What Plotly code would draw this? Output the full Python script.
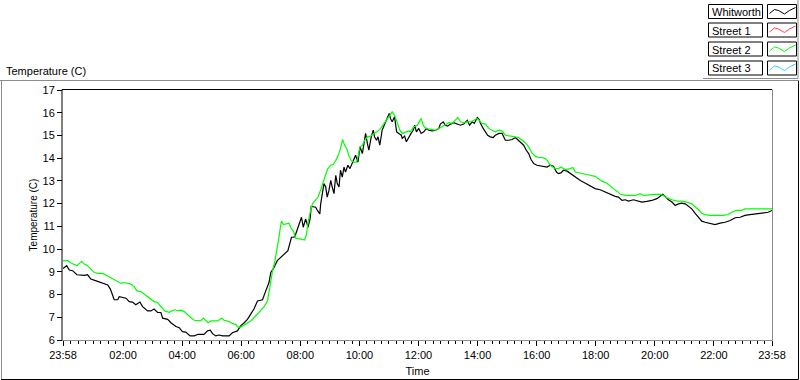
import plotly.graph_objects as go

# ---------------- data ----------------
series_names = ["Whitworth", "Street 1", "Street 2", "Street 3"]
series_colors = ["#000000", "#ff4a4a", "#00ff00", "#3cc8ff"]

# (hours since midnight, temperature C)
whitworth = [
    (-0.033, 9.15), (0.09, 9.27), (0.18, 9.08), (0.29, 9.05), (0.44, 8.87), (0.69, 8.84), (0.80, 8.87),
    (0.91, 8.68), (1.14, 8.58), (1.36, 8.46), (1.48, 8.42), (1.57, 8.24), (1.65, 7.94), (1.70, 7.77),
    (1.82, 7.77), (1.87, 7.91), (2.10, 7.84), (2.21, 7.69), (2.32, 7.67), (2.43, 7.55), (2.57, 7.67),
    (2.66, 7.47), (2.83, 7.28), (2.94, 7.28), (3.05, 7.36), (3.17, 7.21), (3.28, 7.21), (3.34, 6.96),
    (3.51, 6.91), (3.62, 6.76), (3.79, 6.59), (3.90, 6.54), (4.01, 6.37), (4.12, 6.35), (4.27, 6.18),
    (4.41, 6.18), (4.54, 6.25), (4.74, 6.25), (4.86, 6.40), (4.95, 6.43), (5.03, 6.28), (5.14, 6.18),
    (5.25, 6.22), (5.37, 6.18), (5.59, 6.18), (5.70, 6.32), (5.87, 6.40), (5.98, 6.62), (6.10, 6.76),
    (6.21, 6.91), (6.32, 7.14), (6.43, 7.36), (6.55, 7.72), (6.72, 7.77), (6.83, 8.16), (6.94, 8.53),
    (7.00, 8.97), (7.11, 9.19), (7.22, 9.49), (7.34, 9.64), (7.45, 9.79), (7.58, 9.93), (7.70, 10.52),
    (7.79, 10.52), (7.84, 10.64), (7.95, 11.04), (8.04, 11.40), (8.10, 10.96), (8.18, 11.33), (8.26, 10.96),
    (8.33, 11.33), (8.37, 11.88), (8.52, 11.84), (8.58, 11.70), (8.66, 11.55), (8.69, 11.99), (8.75, 12.44),
    (8.80, 12.88), (8.86, 12.73), (8.91, 12.29), (8.97, 12.58), (9.03, 13.02), (9.08, 12.73), (9.14, 12.44),
    (9.20, 13.25), (9.25, 12.88), (9.31, 12.73), (9.36, 13.47), (9.42, 13.17), (9.48, 13.61), (9.53, 13.39),
    (9.61, 13.69), (9.68, 13.54), (9.76, 13.76), (9.81, 13.91), (9.87, 14.13), (9.95, 13.83), (10.02, 14.50),
    (10.10, 14.20), (10.15, 14.65), (10.21, 15.09), (10.27, 14.65), (10.32, 14.35), (10.40, 14.94),
    (10.47, 15.23), (10.51, 14.94), (10.58, 14.79), (10.63, 14.94), (10.69, 14.57), (10.77, 15.23),
    (10.83, 15.45), (10.89, 15.60), (10.96, 15.82), (11.01, 15.97), (11.05, 15.75), (11.11, 15.60),
    (11.19, 15.82), (11.26, 15.16), (11.33, 15.09), (11.42, 15.01), (11.45, 14.87), (11.53, 14.97),
    (11.59, 14.72), (11.67, 14.94), (11.75, 15.09), (11.82, 15.23), (11.87, 15.45), (11.93, 15.16),
    (12.01, 15.31), (12.09, 15.09), (12.18, 15.16), (12.27, 15.31), (12.35, 15.23), (12.46, 15.20),
    (12.58, 15.23), (12.69, 15.31), (12.74, 15.50), (12.84, 15.60), (12.91, 15.45), (12.99, 15.41),
    (13.08, 15.50), (13.19, 15.56), (13.31, 15.50), (13.42, 15.45), (13.53, 15.50), (13.65, 15.67),
    (13.73, 15.45), (13.82, 15.60), (13.89, 15.53), (13.99, 15.79), (14.05, 15.71), (14.10, 15.53),
    (14.19, 15.31), (14.27, 15.16), (14.34, 15.01), (14.43, 14.94), (14.53, 14.91), (14.60, 15.01),
    (14.72, 15.09), (14.83, 15.09), (14.88, 14.94), (14.94, 14.79), (15.05, 14.79), (15.17, 14.82),
    (15.28, 14.91), (15.36, 14.82), (15.45, 14.72), (15.56, 14.57), (15.65, 14.35), (15.73, 14.20),
    (15.81, 13.94), (15.90, 13.76), (16.01, 13.69), (16.12, 13.67), (16.24, 13.64), (16.35, 13.61),
    (16.46, 13.69), (16.57, 13.64), (16.67, 13.39), (16.74, 13.32), (16.82, 13.35), (16.91, 13.47),
    (17.03, 13.43), (17.14, 13.32), (17.25, 13.25), (17.37, 13.10), (17.48, 13.02), (17.65, 12.90),
    (17.81, 12.80), (17.98, 12.66), (18.15, 12.61), (18.32, 12.51), (18.49, 12.41), (18.66, 12.32),
    (18.77, 12.29), (18.89, 12.14), (19.00, 12.17), (19.11, 12.11), (19.28, 12.17), (19.45, 12.11),
    (19.56, 12.07), (19.73, 12.10), (19.90, 12.14), (20.07, 12.22), (20.18, 12.32), (20.27, 12.41),
    (20.35, 12.32), (20.46, 12.17), (20.58, 12.07), (20.69, 11.92), (20.80, 11.99), (20.91, 12.02),
    (21.03, 11.99), (21.14, 11.88), (21.25, 11.77), (21.36, 11.58), (21.48, 11.38), (21.59, 11.23),
    (21.70, 11.18), (21.93, 11.11), (22.04, 11.08), (22.21, 11.14), (22.38, 11.18), (22.55, 11.26),
    (22.72, 11.38), (22.89, 11.40), (23.05, 11.48), (23.22, 11.52), (23.39, 11.55), (23.56, 11.58),
    (23.84, 11.62), (23.967, 11.70),
]

street_1 = []  # no samples shown

street_2 = [
    (-0.033, 9.49), (0.13, 9.49), (0.24, 9.39), (0.35, 9.34), (0.44, 9.27), (0.52, 9.37), (0.60, 9.46),
    (0.69, 9.34), (0.80, 9.27), (0.91, 9.12), (1.03, 8.97), (1.14, 8.93), (1.31, 8.93), (1.42, 8.86),
    (1.57, 8.75), (1.70, 8.68), (1.82, 8.58), (1.93, 8.49), (2.04, 8.53), (2.15, 8.49), (2.27, 8.46),
    (2.38, 8.34), (2.47, 8.16), (2.60, 8.13), (2.72, 8.02), (2.83, 7.90), (2.94, 7.80), (3.05, 7.69),
    (3.17, 7.65), (3.26, 7.50), (3.34, 7.36), (3.41, 7.28), (3.56, 7.22), (3.67, 7.28), (3.75, 7.34),
    (3.84, 7.28), (3.96, 7.31), (4.07, 7.25), (4.18, 7.10), (4.29, 6.99), (4.41, 6.87), (4.52, 6.84),
    (4.63, 6.84), (4.72, 6.96), (4.80, 6.87), (4.88, 6.76), (4.97, 6.84), (5.20, 6.84), (5.33, 6.96),
    (5.42, 6.87), (5.59, 6.81), (5.70, 6.72), (5.81, 6.69), (5.89, 6.57), (5.98, 6.57), (6.10, 6.66),
    (6.21, 6.72), (6.32, 6.84), (6.43, 6.98), (6.55, 7.14), (6.66, 7.28), (6.77, 7.46), (6.89, 7.72),
    (6.94, 8.16), (7.00, 8.61), (7.06, 9.05), (7.13, 9.41), (7.20, 9.86), (7.26, 10.37), (7.31, 10.82),
    (7.36, 11.23), (7.43, 11.08), (7.54, 11.11), (7.62, 11.14), (7.67, 10.96), (7.77, 10.78), (7.84, 10.49),
    (7.95, 10.45), (8.10, 10.40), (8.15, 10.40), (8.21, 10.67), (8.26, 11.17), (8.33, 11.59), (8.41, 11.99),
    (8.52, 12.17), (8.60, 12.29), (8.69, 12.61), (8.78, 12.95), (8.86, 13.25), (8.93, 13.54), (9.03, 13.69),
    (9.12, 13.73), (9.20, 13.91), (9.27, 14.08), (9.36, 14.42), (9.43, 14.82), (9.50, 14.57), (9.57, 14.42),
    (9.64, 14.13), (9.73, 13.88), (9.81, 13.83), (9.90, 13.83), (9.95, 14.05), (10.02, 14.50), (10.10, 14.57),
    (10.18, 14.79), (10.27, 14.94), (10.38, 14.97), (10.49, 15.09), (10.60, 15.16), (10.72, 15.31),
    (10.83, 15.53), (10.94, 15.75), (11.03, 15.90), (11.11, 16.04), (11.19, 15.90), (11.28, 15.53),
    (11.37, 15.23), (11.45, 15.09), (11.56, 15.16), (11.67, 15.20), (11.73, 15.16), (11.84, 15.38),
    (11.96, 15.45), (12.04, 15.64), (12.09, 15.75), (12.16, 15.45), (12.24, 15.31), (12.46, 15.26),
    (12.58, 15.23), (12.69, 15.31), (12.80, 15.38), (12.91, 15.45), (13.03, 15.56), (13.14, 15.53),
    (13.25, 15.67), (13.33, 15.79), (13.42, 15.60), (13.53, 15.56), (13.65, 15.60), (13.78, 15.60),
    (13.87, 15.67), (13.98, 15.75), (14.07, 15.64), (14.15, 15.53), (14.27, 15.50), (14.38, 15.31),
    (14.49, 15.23), (14.60, 15.16), (14.72, 15.23), (14.83, 15.20), (14.94, 15.01), (15.17, 14.97),
    (15.39, 14.91), (15.51, 14.79), (15.62, 14.67), (15.73, 14.50), (15.84, 14.23), (15.96, 14.08),
    (16.07, 14.03), (16.18, 14.03), (16.29, 13.98), (16.37, 13.88), (16.46, 13.69), (16.63, 13.54),
    (16.74, 13.54), (16.82, 13.61), (16.97, 13.50), (17.14, 13.54), (17.23, 13.59), (17.31, 13.39),
    (17.48, 13.35), (17.65, 13.32), (17.81, 13.25), (17.98, 13.20), (18.10, 13.10), (18.21, 12.99),
    (18.38, 12.90), (18.49, 12.76), (18.60, 12.66), (18.72, 12.55), (18.83, 12.41), (19.00, 12.36),
    (19.34, 12.36), (19.50, 12.44), (19.62, 12.36), (20.01, 12.41), (20.18, 12.41), (20.29, 12.36),
    (20.41, 12.26), (20.58, 12.17), (20.75, 12.11), (20.91, 12.11), (21.08, 12.07), (21.25, 11.99),
    (21.36, 11.88), (21.48, 11.73), (21.59, 11.58), (21.70, 11.52), (21.87, 11.48), (22.32, 11.48),
    (22.49, 11.52), (22.60, 11.62), (22.77, 11.70), (22.94, 11.70), (23.05, 11.77), (23.967, 11.77),
]

street_3 = []  # no samples shown

series_data = [whitworth, street_1, street_2, street_3]

x_tick_vals = [-2 / 60, 2, 4, 6, 8, 10, 12, 14, 16, 18, 20, 22, 24 - 2 / 60]
x_tick_text = ["23:58", "02:00", "04:00", "06:00", "08:00", "10:00", "12:00",
               "14:00", "16:00", "18:00", "20:00", "22:00", "23:58"]
y_tick_vals = [6, 7, 8, 9, 10, 11, 12, 13, 14, 15, 16, 17]

chart_label = "Temperature (C)"
x_title = "Time"
y_title = "Temperature (C)"

# ---------------- layout helpers ----------------
W, H = 800, 380
PL, PR, PT, PB = 63, 772, 90, 340  # plot area in pixels


def px(xp):
    return (xp - PL) / (PR - PL)


def py(yp):
    return (PB - yp) / (PB - PT)


FONT = "Liberation Sans, Arial, sans-serif"

fig = go.Figure()
for name, color, pts in zip(series_names, series_colors, series_data):
    fig.add_trace(go.Scatter(
        x=[p[0] for p in pts], y=[p[1] for p in pts], mode="lines", name=name,
        line=dict(color=color, width=1.2), showlegend=False, hoverinfo="skip"))

# minor ticks: 8 subdivisions between labelled ticks
minor_vals = []
for a, b in zip(x_tick_vals[:-1], x_tick_vals[1:]):
    for k in range(1, 8):
        minor_vals.append(a + (b - a) * k / 8)

shapes = []
# plot-area frame: top/left black, right/bottom grey
shapes.append(dict(type="line", xref="paper", yref="paper", x0=px(62), x1=px(772), y0=py(89.5), y1=py(89.5),
                   line=dict(color="black", width=1)))
shapes.append(dict(type="line", xref="paper", yref="paper", x0=px(62), x1=px(62), y0=py(89.5), y1=py(340.5),
                   line=dict(color="black", width=1)))
shapes.append(dict(type="line", xref="paper", yref="paper", x0=px(772.5), x1=px(772.5), y0=py(89.5), y1=py(340.5),
                   line=dict(color="#8c8c8c", width=1)))
shapes.append(dict(type="line", xref="paper", yref="paper", x0=px(62), x1=px(772.5), y0=py(340.5), y1=py(340.5),
                   line=dict(color="#8c8c8c", width=1)))
# outer chart frame
shapes.append(dict(type="line", xref="paper", yref="paper", x0=px(0), x1=px(798), y0=py(80.5), y1=py(80.5),
                   line=dict(color="#8c8c8c", width=1)))
shapes.append(dict(type="line", xref="paper", yref="paper", x0=px(1.5), x1=px(1.5), y0=py(80.5), y1=py(379),
                   line=dict(color="#8c8c8c", width=1)))
shapes.append(dict(type="line", xref="paper", yref="paper", x0=px(798.5), x1=px(798.5), y0=py(80.5), y1=py(379.5),
                   line=dict(color="black", width=1)))
shapes.append(dict(type="line", xref="paper", yref="paper", x0=px(1), x1=px(798.5), y0=py(379.5), y1=py(379.5),
                   line=dict(color="black", width=1)))

# legend (LabVIEW style)
annotations = []
row_tops = [4.5, 23, 42, 61]
for name, color, top in zip(series_names, series_colors, row_tops):
    shapes.append(dict(type="rect", xref="paper", yref="paper", x0=px(708.5), x1=px(762.5),
                       y0=py(top), y1=py(top + 14), line=dict(color="black", width=1), fillcolor="white"))
    shapes.append(dict(type="rect", xref="paper", yref="paper", x0=px(767.5), x1=px(796.5),
                       y0=py(top), y1=py(top + 14), line=dict(color="black", width=1), fillcolor="white"))
    zig = [(2, 9), (7, 5), (11, 6), (17, 9.5), (22, 6), (28, 3)]
    path = "M " + " L ".join(f"{px(767.5 + dx):.5f},{py(top + dy):.5f}" for dx, dy in zig)
    shapes.append(dict(type="path", xref="paper", yref="paper", path=path,
                       line=dict(color=color, width=1)))
    annotations.append(dict(xref="paper", yref="paper", x=px(710), y=py(top + 7.5), text=name,
                            showarrow=False, xanchor="left", yanchor="middle",
                            font=dict(family=FONT, size=11, color="black")))
# legend shadow
shapes.append(dict(type="line", xref="paper", yref="paper", x0=px(703), x1=px(798), y0=py(78.5), y1=py(78.5),
                   line=dict(color="#8c8c8c", width=1)))
shapes.append(dict(type="line", xref="paper", yref="paper", x0=px(798), x1=px(798), y0=py(0), y1=py(78.5),
                   line=dict(color="#8c8c8c", width=1)))

annotations.append(dict(xref="paper", yref="paper", x=px(4), y=py(71), text=chart_label, showarrow=False,
                        xanchor="left", yanchor="middle", font=dict(family=FONT, size=11, color="black")))

fig.update_layout(
    width=W, height=H,
    margin=dict(l=PL, r=W - PR, t=PT, b=H - PB, pad=0, autoexpand=False),
    paper_bgcolor="white", plot_bgcolor="white",
    font=dict(family=FONT, size=11, color="black"),
    showlegend=False,
    shapes=shapes, annotations=annotations,
    xaxis=dict(range=[x_tick_vals[0], x_tick_vals[-1]], tickmode="array", tickvals=x_tick_vals,
               ticktext=x_tick_text, ticks="outside", ticklen=5, tickcolor="black", tickwidth=1,
               showgrid=False, zeroline=False, showline=False, automargin=False,
               minor=dict(tickmode="array", tickvals=minor_vals, ticks="outside", ticklen=3,
                          tickcolor="black", tickwidth=1, showgrid=False),
               title=dict(text=x_title, standoff=7, font=dict(family=FONT, size=11)),
               tickfont=dict(family=FONT, size=11)),
    yaxis=dict(range=[6, 17], tickmode="array", tickvals=y_tick_vals, ticks="outside", ticklen=5,
               tickcolor="black", tickwidth=1, showgrid=False, zeroline=False, showline=False,
               automargin=False,
               title=dict(text=y_title, standoff=3, font=dict(family=FONT, size=10)),
               tickfont=dict(family=FONT, size=11)),
)

fig.write_html("out.html", config={"displayModeBar": False},
               post_script="document.body.style.margin='0';document.body.style.overflow='hidden';")
